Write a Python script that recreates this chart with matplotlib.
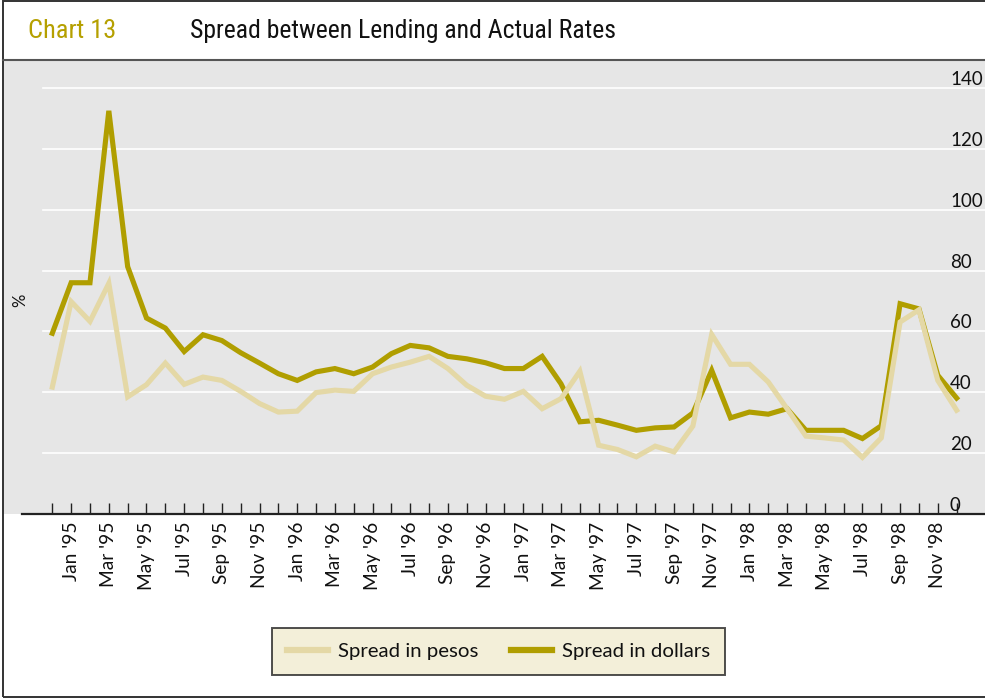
import matplotlib
matplotlib.use("Agg")
import matplotlib.pyplot as plt
from matplotlib import font_manager
from matplotlib.lines import Line2D
from matplotlib.patches import Rectangle
import pandas as pd

# Monthly observations, Dec 1994 - Dec 1998
months = pd.period_range("1994-12", "1998-12", freq="M")
tick_labels = [m.strftime("%b '%y") if i % 2 == 1 else "" for i, m in enumerate(months)]

spread_pesos = [41.7, 69.8, 63.3, 75.8, 38.5, 42.5, 49.6, 42.6, 45.0, 43.9, 40.3, 36.3, 33.5, 33.8, 39.9,
                40.7, 40.3, 46.1, 48.3, 49.9, 51.8, 47.8, 42.3, 38.7, 37.7, 40.3, 34.6, 37.9, 46.9, 22.6, 21.2, 18.8,
                22.3, 20.4, 28.9, 59.0, 49.2, 49.2, 43.4, 34.6, 25.6, 25.0, 24.3, 18.6, 25.0, 63.1, 67.1, 43.9, 34.1]
spread_dollars = [59.4, 76.0, 76.0, 132.5, 81.3, 64.4, 61.1, 53.4, 58.9, 57.0, 53.0, 49.6, 46.1, 43.9, 46.7,
                  47.8, 46.1, 48.3, 52.7, 55.4, 54.6, 51.8, 51.0, 49.7, 47.8, 47.8, 51.8, 42.8, 30.3, 30.8, 29.2, 27.5,
                  28.3, 28.6, 33.2, 47.2, 31.6, 33.5, 32.8, 34.6, 27.5, 27.5, 27.5, 24.8, 29.0, 69.1, 67.4, 45.6, 38.1]
y_ticks = [0, 20, 40, 60, 80, 100, 120, 140]

series_names = ["Spread in pesos", "Spread in dollars"]
chart_number = "Chart 13"
chart_title = "Spread between Lending and Actual Rates"


def pick(names):
    for n in names:
        try:
            font_manager.findfont(n, fallback_to_default=False)
            return n
        except Exception:
            continue
    return "DejaVu Sans"


body_font = pick(["Lato", "Open Sans", "Liberation Sans"])
title_font = pick(["Liberation Sans Narrow", "Roboto Condensed", "Liberation Sans"])

DARK = "#b09e00"
LIGHT = "#e4d8a6"
BG = "#e6e6e6"
W, H = 985, 700

fig = plt.figure(figsize=(W / 100, H / 100), dpi=100)
fig.patch.set_facecolor("white")


def fx(px):
    return px / W


def fy(py):
    return 1 - py / H


ax_left, ax_right, ax_top, ax_bot = 3, 985, 60, 514
ax = fig.add_axes([fx(ax_left), fy(ax_bot), fx(ax_right - ax_left), fy(ax_top) - fy(ax_bot)])
ax.set_facecolor(BG)

x = list(range(len(months)))
x0_px, dx_px = 52.3, 18.84
ax.set_xlim((ax_left - x0_px) / dx_px, (ax_right - x0_px) / dx_px)
px_per_unit = (514 - 88) / 140
ax.set_ylim(0, (ax_bot - ax_top) / px_per_unit)

# white horizontal gridlines starting a little to the right of the panel edge
for v in y_ticks[1:]:
    ax.axhline(v, xmin=(43 - ax_left) / (ax_right - ax_left), xmax=1, color="white", lw=1.2, zorder=1)

ax.plot(x, spread_dollars, color=DARK, lw=3.7, solid_joinstyle="miter", zorder=3)
ax.plot(x, spread_pesos, color=LIGHT, lw=3.7, solid_joinstyle="miter", zorder=4)

for s in ["top", "left", "right"]:
    ax.spines[s].set_visible(False)
ax.spines["bottom"].set_color("#222222")
ax.spines["bottom"].set_linewidth(1.6)
ax.spines["bottom"].set_bounds((22 - x0_px) / dx_px, ax.get_xlim()[1])
ax.spines["bottom"].set_zorder(5)

ax.set_xticks(x)
ax.set_xticklabels(tick_labels, rotation=90, ha="center", va="top",
                   fontsize=13.8, family=body_font, color="#111111")
ax.tick_params(axis="x", direction="in", length=7.7, width=1.0, color="#222222", pad=5.5)

ax.yaxis.tick_right()
ax.set_yticks(y_ticks)
ax.set_yticklabels([str(v) for v in y_ticks], fontsize=13.5, family=body_font, color="#111111")
ax.tick_params(axis="y", length=0, pad=-(ax_right - 950) * 0.72)
for lab in ax.get_yticklabels():
    lab.set_va("bottom")
    lab.set_ha("left")

ax.text(fx(20 - ax_left) / fx(ax_right - ax_left), (514 - 300) / (ax_bot - ax_top), "%",
        transform=ax.transAxes, rotation=90, ha="center", va="center",
        fontsize=12, family=body_font, color="#111111")

# header
fig.text(fx(28), fy(31), chart_number, color="#b5a000", fontsize=19,
         family=title_font, ha="left", va="center")
fig.text(fx(190), fy(31), chart_title, color="#111111", fontsize=18.5,
         family=title_font, ha="left", va="center")

# frame lines
fig.add_artist(Line2D([fx(3), 1], [fy(60), fy(60)], color="#555555", lw=1.5))
fig.add_artist(Rectangle((fx(3), fy(697)), 1.2, fy(1) - fy(697), transform=fig.transFigure,
                         fill=False, edgecolor="#333333", lw=1.4, clip_on=False))

handles = [Line2D([], [], color=LIGHT, lw=4.5), Line2D([], [], color=DARK, lw=4.5)]
leg = fig.legend(handles, series_names, loc="center",
                 bbox_to_anchor=(fx((266 + 731) / 2), fy(651.5)), ncol=2,
                 frameon=True, fancybox=False, facecolor="#f1ebd0", edgecolor="#222222",
                 prop={"family": body_font, "size": 14.7}, handlelength=2.0,
                 columnspacing=1.6, handletextpad=0.5, borderpad=0.75, borderaxespad=0)
leg.get_frame().set_linewidth(1.4)
for t in leg.get_texts():
    t.set_color("#111111")

fig.savefig("out.png", dpi=100)
